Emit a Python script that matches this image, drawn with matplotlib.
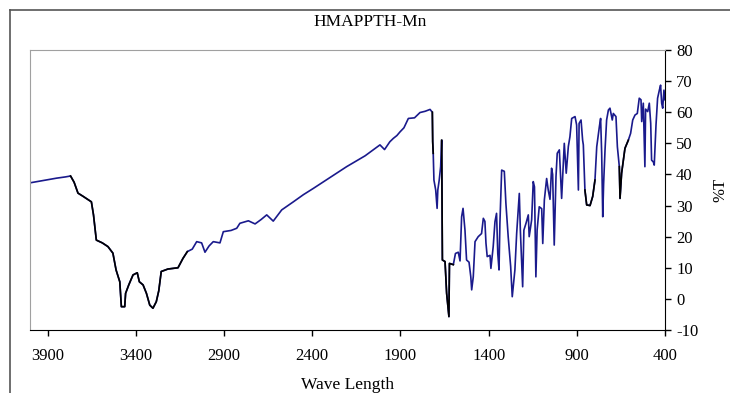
import numpy as np
import matplotlib
matplotlib.use("Agg")
from matplotlib import pyplot as plt
from matplotlib.lines import Line2D

plt.rcParams['font.family'] = ['Liberation Serif', 'DejaVu Serif']
plt.rcParams['axes.unicode_minus'] = False

# IR spectrum: wavenumber (cm-1) and %T
wave = [4000, 3950, 3900, 3850, 3800, 3770, 3750, 3728, 3700, 3652,
        3640, 3624, 3590, 3558, 3530, 3512, 3491, 3482, 3463, 3458,
        3440, 3416, 3392, 3380, 3359, 3340, 3321, 3303, 3284, 3270,
        3256, 3218, 3161, 3133, 3108, 3080, 3055, 3027, 3008, 2985,
        2961, 2923, 2904, 2860, 2828, 2810, 2762, 2724, 2690, 2658,
        2621, 2573, 2507, 2450, 2394, 2300, 2205, 2100, 2016, 1990,
        1960, 1940, 1920, 1902, 1880, 1855, 1820, 1789, 1760, 1732,
        1719, 1717, 1714, 1710, 1700, 1692, 1688, 1680, 1672, 1666,
        1662, 1647, 1638, 1625, 1622, 1600, 1588, 1572, 1562, 1553,
        1545, 1534, 1525, 1511, 1501, 1496, 1487, 1477, 1459, 1440,
        1430, 1421, 1415, 1408, 1392, 1387, 1374, 1364, 1355, 1348,
        1341, 1336, 1326, 1311, 1302, 1289, 1275, 1266, 1251, 1241,
        1226, 1220, 1207, 1200, 1188, 1175, 1170, 1156, 1147, 1140,
        1132, 1125, 1113, 1099, 1093, 1084, 1071, 1062, 1052, 1043,
        1037, 1028, 1018, 1011, 999, 986, 977, 971, 960, 948,
        939, 929, 910, 901, 891, 887, 876, 867, 863, 854,
        844, 825, 810, 797, 787, 772, 765, 759, 753, 748,
        740, 731, 721, 712, 699, 693, 678, 670, 659, 655,
        646, 636, 627, 608, 595, 583, 570, 557, 546, 536,
        532, 523, 514, 510, 498, 489, 481, 476, 466, 461,
        451, 442, 432, 425, 419, 413, 406, 400]
trans = [37.3, 37.8, 38.3, 38.8, 39.2, 39.5, 37.5, 34, 33, 31.2,
         27, 18.9, 18, 16.8, 14.7, 9.3, 5.5, -2.5, -2.5, 1.8,
         4.5, 7.7, 8.4, 5.5, 4.5, 1.8, -2, -3, -0.9, 2.6,
         8.8, 9.6, 10, 13, 15.2, 16, 18.4, 18, 15, 17,
         18.4, 18, 21.6, 22, 22.7, 24.3, 25.1, 24.1, 25.5, 27,
         25, 28.6, 31.2, 33.5, 35.5, 39, 42.5, 46, 49.5, 48,
         50.5, 51.6, 52.5, 53.7, 55, 58, 58.2, 59.9, 60.3, 60.9,
         60, 50.5, 46.8, 38.2, 35, 29.1, 35, 38.2, 42.5, 51,
         12.5, 12, 1.8, -5.7, 11.4, 11, 14.6, 15, 12.2, 26.4,
         29.1, 22.1, 12.5, 11.8, 7.1, 2.9, 7.1, 18.4, 20, 21,
         25.9, 24.9, 17.9, 13.6, 14, 9.8, 16.8, 24.8, 27.5, 14.6,
         9.3, 24.3, 41.4, 41, 30.7, 20, 10.4, 0.7, 9.3, 21,
         33.9, 22, 3.9, 22.1, 24.3, 27, 20, 25.4, 37.7, 36,
         7.1, 22.1, 29.6, 29, 17.8, 31.8, 38.7, 35, 32, 42,
         40, 17.3, 39.3, 46.8, 47.9, 32.3, 43, 50, 40.4, 49,
         52.1, 58, 58.6, 55.9, 35, 56.4, 57.5, 51, 49.5, 35,
         30.2, 30, 32.9, 38.2, 48.9, 55.4, 58, 46.8, 26.4, 37,
         47.9, 57.5, 60.7, 61.3, 57.5, 59.6, 58.6, 48.9, 42.5, 32.3,
         40.4, 44.6, 48.4, 51, 53.2, 57.5, 59.1, 59.6, 64.5, 64,
         57, 62.9, 42.5, 61, 60.2, 62.9, 56.4, 44.6, 44, 43,
         55.9, 64.5, 67.1, 68.7, 62.9, 61.3, 67.1, 64]

# stretches of the trace that are drawn black in the original
black_parts = [(3770, 3105), (1719, 1714), (1666, 1600), (855, 790), (660, 605)]

x_ticks = [3900, 3400, 2900, 2400, 1900, 1400, 900, 400]
y_ticks = [-10, 0, 10, 20, 30, 40, 50, 60, 70, 80]

wave = np.array(wave)
trans = np.array(trans)

fig = plt.figure(figsize=(7.3, 3.93), dpi=100)
ax = fig.add_axes([30 / 730, 63 / 393, 635 / 730, 280 / 393])

ax.plot(wave, trans, color='#1a1a8c', lw=1.2)
for hi, lo in black_parts:
    m = (wave <= hi) & (wave >= lo)
    ax.plot(wave[m], trans[m], color='black', lw=1.2)

ax.set_xlim(4000, 400)
ax.set_ylim(-10, 80)
ax.set_xticks(x_ticks)
ax.set_yticks(y_ticks)

ax.yaxis.tick_right()
ax.yaxis.set_label_position('right')
ax.tick_params(axis='both', direction='out', length=4, width=1, labelsize=12,
               colors='black')
ax.tick_params(axis='x', pad=9)
ax.tick_params(axis='y', pad=4)
ax.spines['left'].set_color('#a0a0a0')
ax.spines['top'].set_color('#a0a0a0')
ax.spines['right'].set_color('black')
ax.spines['bottom'].set_color('black')

ax.set_xlabel('Wave Length', fontsize=12.5, labelpad=9)
ax.set_ylabel('%T', fontsize=12, labelpad=10)
fig.text(370 / 730, 1 - 22 / 393, 'HMAPPTH-Mn', ha='center', va='center', fontsize=12.5)

# outer chart frame (only top and left edges show)
fig.add_artist(Line2D([10 / 730, 1], [1 - 10 / 393, 1 - 10 / 393], color='#555555', lw=1.2))
fig.add_artist(Line2D([10 / 730, 10 / 730], [0, 1 - 10 / 393], color='#555555', lw=1.2))

fig.savefig('out.png', dpi=100)
